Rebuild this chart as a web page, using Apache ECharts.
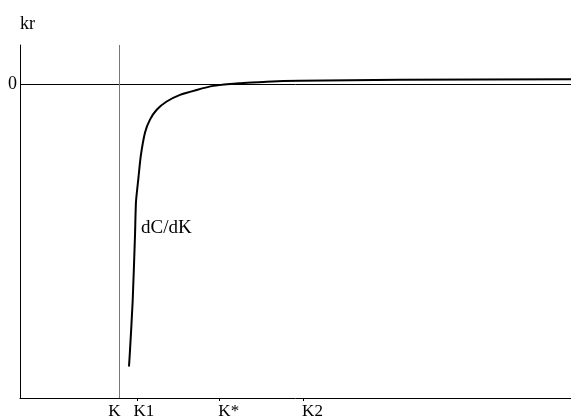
<!DOCTYPE html>
<html style="height: 100%">
    <head>
        <meta charset="utf-8">
        <title>dC/dK</title>
        <script src="https://cdn.jsdelivr.net/npm/echarts@6/dist/echarts.min.js"></script>
    </head>
    <body style="height: 100%; margin: 0; background: #fff">
        <div id="container" style="width: 571px; height: 420px"></div>
        <script type="text/javascript">
// curve dC/dK (x: 0..100, y: -32..4)
var curveX = [19.78, 19.96, 20.45, 20.87, 21.05, 21.47, 21.91, 22.69, 23.59, 24.81,
              26.62, 29.04, 32.07, 35.08, 38.11, 39.93, 44.77, 50.82, 68.97, 100];
var curveY = [-28.79, -27.17, -22.11, -15.44, -12.0, -9.67, -7.35, -4.92, -3.61, -2.60,
              -1.76, -1.08, -0.58, -0.17, 0.03, 0.10, 0.26, 0.36, 0.45, 0.51];

// x tick marks and labels
var tickValues = [21.2, 36.2, 51.4];
var labelValues = [16.0, 20.6, 36.0, 51.2];
var labelNames = ['K', 'K1', 'K*', 'K2'];
var kLine = 18;          // vertical line at K
var curveName = 'dC/dK';
var curveLabelAt = [21.96, -14.7];

var serif = '"Liberation Serif", "DejaVu Serif", serif';

var dom = document.getElementById("container");
var myChart = echarts.init(dom);

var option = {
  animation: false,
  grid: {
    left: 20,
    right: 0,
    top: 45,
    bottom: 19
  },
  xAxis: {
    type: 'value',
    min: 0,
    max: 100,
    axisLine: { show: true, onZero: false, lineStyle: { color: '#000', width: 1 } },
    axisTick: {
      show: true,
      customValues: tickValues,
      length: 3,
      lineStyle: { color: '#000' }
    },
    axisLabel: {
      customValues: labelValues,
      align: 'left',
      margin: 5,
      color: '#000',
      fontFamily: serif,
      fontSize: 17,
      formatter: function (v) {
        var i = labelValues.indexOf(v);
        return i >= 0 ? labelNames[i] : '';
      }
    },
    splitLine: { show: false }
  },
  yAxis: {
    type: 'value',
    min: -32,
    max: 4,
    name: 'kr',
    nameLocation: 'end',
    nameGap: 12,
    nameTextStyle: { color: '#000', fontFamily: serif, fontSize: 18, align: 'left' },
    axisLine: { show: true, onZero: false, lineStyle: { color: '#000', width: 1 } },
    axisTick: { show: false },
    axisLabel: {
      customValues: [0],
      margin: 3,
      color: '#000',
      fontFamily: serif,
      fontSize: 18,
      padding: [5, 0, 0, 0]
    },
    splitLine: { show: false }
  },
  series: [
    {
      name: curveName,
      type: 'line',
      data: curveX.map(function (x, i) { return [x, curveY[i]]; }),
      showSymbol: false,
      smooth: 0.2,
      lineStyle: { color: '#000', width: 2 },
      markLine: {
        silent: true,
        symbol: 'none',
        label: { show: false },
        data: [
          { yAxis: 0, lineStyle: { color: '#000', width: 1, type: 'solid' } },
          { xAxis: kLine, lineStyle: { color: '#777', width: 1, type: 'solid' } }
        ]
      },
      markPoint: {
        symbol: 'circle',
        symbolSize: 0,
        data: [{ coord: curveLabelAt }],
        label: {
          show: true,
          position: 'right',
          distance: 0,
          formatter: curveName,
          color: '#000',
          fontFamily: serif,
          fontSize: 19
        }
      }
    }
  ]
};

myChart.setOption(option);
        </script>
    </body>
</html>
